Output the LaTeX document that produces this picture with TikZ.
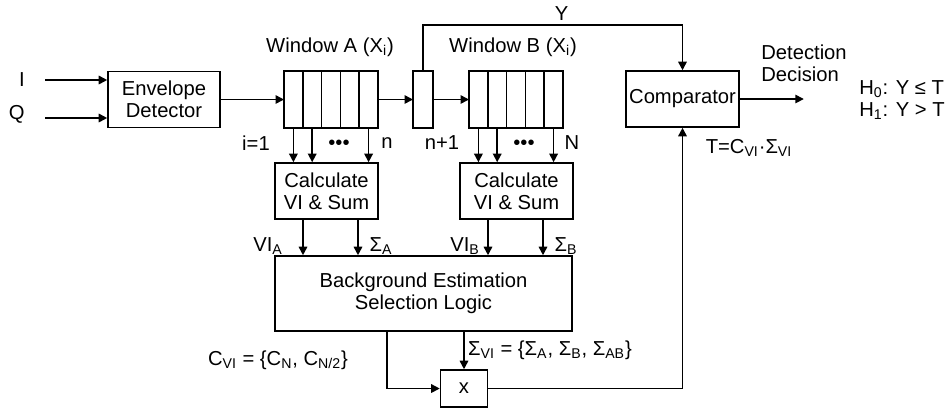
\documentclass[tikz,border=0pt]{standalone}
\usepackage{fontspec}
\setmainfont{Liberation Sans}
\usepackage{tikz}
\usetikzlibrary{arrows.meta, positioning}
\newcommand{\lowr}[1]{\textsubscript{#1}}
\tikzset{
  blk/.style={draw, line width=0.9pt, minimum height=1.12cm, inner sep=0pt, align=center},
  cell/.style={draw, line width=0.9pt, minimum width=0.376cm, minimum height=1.14cm, inner sep=0pt, outer sep=0pt},
  sig/.style={line width=0.9pt, -{Triangle[length=1.7mm,width=1.7mm]}},
  wire/.style={line width=0.9pt}
}
\begin{document}
\begin{tikzpicture}[x=0.02cm, y=-0.02cm, font=\fontsize{11.5}{12.5}\selectfont]
  \useasboundingbox (0,0) rectangle (952,414);
  % inputs and envelope detector
  \coordinate (inI) at (45,80);
  \coordinate (inQ) at (45,118);
  \node[left=0.4cm of inI, inner sep=0pt] (lI) {I};
  \node[left=0.4cm of inQ, inner sep=0pt, yshift=2pt] (lQ) {Q};
  \node[blk, minimum width=2.24cm] (env) at (164,99.5) {Envelope\\Detector};
  \draw[sig] (inI) -- (inI -| env.west);
  \draw[sig] (inQ) -- (inQ -| env.west);
  % windows
  \node[cell] (a1) at (293.4,99.5) {};
  \foreach \i [remember=\i as \j (initially 1)] in {2,...,5}
    \node[cell, right=0pt of a\j] (a\i) {};
  \node[cell, minimum width=0.4cm] (nb) at (423,99.5) {};
  \node[cell] (b1) at (478.4,99.5) {};
  \foreach \i [remember=\i as \j (initially 1)] in {2,...,5}
    \node[cell, right=0pt of b\j] (b\i) {};
  \node (wA) at (330,47) {Window A (X\lowr{i})};
  \node (wB) at (513,47) {Window B (X\lowr{i})};
  \draw[sig] (env.east) -- (a1.west);
  \draw[sig] (a5.east) -- (nb.west);
  \draw[sig] (nb.east) -- (b1.west);
  % comparator
  \node[blk, minimum width=2.26cm] (comp) at (682.5,99) {Comparator};
  \draw[sig] (nb.north) -- ++(0,-46) -| node[pos=0.267, above=-1pt] (ylab) {Y} (comp.north);
  \draw[sig] (comp.east) -- ++(64,0) coordinate (dout);
  \node[anchor=west, align=left, inner sep=0pt] (dd) at (761,63) {Detection\\Decision};
  \node[anchor=west, align=left, inner sep=0pt] (hyp) at (859,100) {H\lowr{0}: Y ≤ T\\H\lowr{1}: Y > T};
  \node (thr) at (749,148) {T=C\lowr{VI}·Σ\lowr{VI}};
  % VI and sum blocks
  \node[blk, minimum width=2.06cm] (calcA) at (326.5,191) {Calculate\\VI \& Sum};
  \node[blk, minimum width=2.26cm] (calcB) at (516.5,191) {Calculate\\VI \& Sum};
  \foreach \c in {a1,a2,a5}
    \draw[sig] (\c.south) -- (\c.south |- calcA.north);
  \foreach \c in {b1,b2,b5}
    \draw[sig] (\c.south) -- (\c.south |- calcB.north);
  \node (iA) at (256,143) {i=1};
  \node (nA) at (387,143) {n};
  \node (nB) at (442,143) {n+1};
  \node (NB) at (572,143) {N};
  \node (dotA) at (339,145) {•••};
  \node (dotB) at (524,145) {•••};
  % background estimation
  \node[blk, minimum width=5.94cm, minimum height=1.5cm] (bg) at (423.5,293.5) {Background Estimation\\Selection Logic};
  \draw[sig] (303,0 |- calcA.south) -- (303,0 |- bg.north);
  \draw[sig] (358,0 |- calcA.south) -- (358,0 |- bg.north);
  \draw[sig] (488,0 |- calcB.south) -- (488,0 |- bg.north);
  \draw[sig] (543,0 |- calcB.south) -- (543,0 |- bg.north);
  \node (viA) at (268,246) {VI\lowr{A}};
  \node (sA) at (381,246) {Σ\lowr{A}};
  \node (viB) at (465,246) {VI\lowr{B}};
  \node (sB) at (566,246) {Σ\lowr{B}};
  % multiplier
  \node[blk, minimum width=0.94cm, minimum height=0.74cm] (mul) at (464,388.5) {x};
  \draw[sig] (387,0 |- bg.south) |- (mul.west);
  \draw[sig] (bg.south -| mul.north) -- (mul.north);
  \draw[sig] (mul.east) -| (comp.south);
  \node (cvi) at (278,360) {C\lowr{VI} = \{C\lowr{N}, C\lowr{N/2}\}};
  \node (svi) at (550,350) {Σ\lowr{VI} = \{Σ\lowr{A}, Σ\lowr{B}, Σ\lowr{AB}\}};
\end{tikzpicture}
\end{document}
